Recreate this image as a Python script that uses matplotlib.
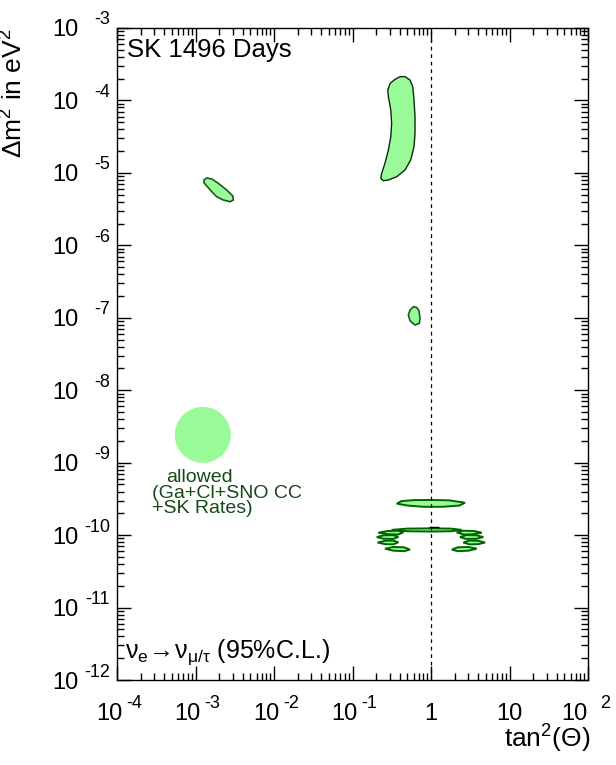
import numpy as np
import matplotlib
matplotlib.use('Agg')
import matplotlib.pyplot as plt
import matplotlib.transforms as mtrans
from matplotlib.ticker import LogLocator, NullFormatter

plt.rcParams['font.family'] = ['Liberation Sans', 'DejaVu Sans']
plt.rcParams['mathtext.fontset'] = 'custom'
plt.rcParams['mathtext.rm'] = 'Liberation Sans'
plt.rcParams['mathtext.it'] = 'Liberation Sans:italic'
plt.rcParams['mathtext.bf'] = 'Liberation Sans:bold'

# --- allowed regions (tan^2 theta, delta m^2) ---
lma_tan2 = [0.403, 0.347, 0.301, 0.281, 0.286, 0.307, 0.315, 0.307, 0.286, 0.259, 0.235,
            0.229, 0.247, 0.286, 0.366, 0.467, 0.551, 0.607, 0.625, 0.625, 0.607, 0.585,
            0.540, 0.467]
lma_dm2 = [2.13e-4, 1.95e-4, 1.72e-4, 1.39e-4, 1.13e-4, 7.38e-5, 4.83e-5, 3.16e-5, 2.07e-5,
           1.36e-5, 9.86e-6, 8.41e-6, 7.80e-6, 7.98e-6, 8.85e-6, 1.10e-5, 1.51e-5, 2.30e-5,
           3.52e-5, 5.97e-5, 1.01e-4, 1.55e-4, 1.91e-4, 2.13e-4]

sma_tan2 = [1.28e-3, 1.39e-3, 1.61e-3, 1.95e-3, 2.49e-3, 2.98e-3, 3.03e-3, 2.75e-3, 2.26e-3,
            1.86e-3, 1.61e-3, 1.39e-3, 1.28e-3]
sma_dm2 = [7.98e-6, 8.5e-6, 8.24e-6, 7.18e-6, 5.81e-6, 4.80e-6, 4.22e-6, 4.0e-6, 4.22e-6,
           4.69e-6, 5.50e-6, 6.59e-6, 7.32e-6]

low_tan2 = [0.596, 0.540, 0.514, 0.540, 0.625, 0.710, 0.724, 0.703, 0.655]
low_dm2 = [1.42e-7, 1.28e-7, 1.09e-7, 9.1e-8, 7.94e-8, 8.38e-8, 9.8e-8, 1.25e-7, 1.39e-7]

# vacuum oscillation islands, one list per island
vac_tan2 = [
    [0.366, 0.42, 0.6, 1.0, 1.7, 2.71, 2.3, 1.4, 0.8, 0.5],
    [0.315, 0.5, 1.0, 1.8, 2.46, 1.8, 1.0, 0.5],
    [0.213, 0.28, 0.38, 0.444, 0.38, 0.28],
    [0.203, 0.25, 0.33, 0.383, 0.33, 0.25],
    [0.208, 0.26, 0.33, 0.383, 0.33, 0.26],
    [0.259, 0.33, 0.45, 0.540, 0.45, 0.33],
    [2.12, 2.6, 3.5, 4.43, 3.5, 2.6],
    [2.34, 2.8, 3.8, 4.63, 3.8, 2.8],
    [2.58, 3.1, 4.0, 4.88, 4.0, 3.1],
    [1.84, 2.2, 3.0, 3.82, 3.0, 2.2],
]
vac_dm2 = [
    [2.72e-10, 2.95e-10, 3.04e-10, 3.06e-10, 3.02e-10, 2.8e-10, 2.56e-10, 2.46e-10, 2.46e-10, 2.56e-10],
    [1.18e-10, 1.23e-10, 1.24e-10, 1.23e-10, 1.18e-10, 1.13e-10, 1.12e-10, 1.13e-10],
    [1.08e-10, 1.14e-10, 1.15e-10, 1.09e-10, 1.02e-10, 1.03e-10],
    [9.4e-11, 9.95e-11, 1.0e-10, 9.45e-11, 8.85e-11, 8.9e-11],
    [7.9e-11, 8.35e-11, 8.4e-11, 7.95e-11, 7.45e-11, 7.5e-11],
    [6.5e-11, 6.85e-11, 6.8e-11, 6.3e-11, 6.0e-11, 6.1e-11],
    [1.09e-10, 1.15e-10, 1.14e-10, 1.08e-10, 1.03e-10, 1.02e-10],
    [9.4e-11, 1.0e-10, 9.95e-11, 9.4e-11, 8.9e-11, 8.85e-11],
    [7.9e-11, 8.4e-11, 8.35e-11, 7.9e-11, 7.5e-11, 7.45e-11],
    [6.3e-11, 6.8e-11, 6.85e-11, 6.5e-11, 6.1e-11, 6.0e-11],
]

bestfit_tan2 = 1.09
bestfit_dm2 = 1.28e-10

# tick label exponents
x_exps = [-4, -3, -2, -1, 0, 1, 2]
y_exps = [-12, -11, -10, -9, -8, -7, -6, -5, -4, -3]

FILL = '#98fb98'
HYPHEN = '\u2010'
BASE_FS = 17
EXP_FS = 13

fig = plt.figure(figsize=(6.16, 7.65), dpi=100)
ax = fig.add_axes([0.190, 0.1111, 0.7646, 0.8523])
ax.set_xscale('log')
ax.set_yscale('log')
ax.set_xlim(10.0 ** x_exps[0], 10.0 ** x_exps[-1])
ax.set_ylim(10.0 ** y_exps[0], 10.0 ** y_exps[-1])

ax.fill(lma_tan2, lma_dm2, facecolor=FILL, edgecolor='#0b2a0b', linewidth=1.0)
ax.fill(sma_tan2, sma_dm2, facecolor=FILL, edgecolor='#1e5a1e', linewidth=1.2)
ax.fill(low_tan2, low_dm2, facecolor=FILL, edgecolor='#1e5a1e', linewidth=1.2)
for xs, ys in zip(vac_tan2, vac_dm2):
    ax.fill(xs, ys, facecolor=FILL, edgecolor='#006400', linewidth=1.4)
ax.plot([bestfit_tan2], [bestfit_dm2], marker='_', color='k', markersize=7, mew=1)

# tan^2 = 1 line
ax.axvline(1.0, color='k', linewidth=0.9, linestyle=(0, (3, 3)))

# ticks (labels drawn by hand below, "10" + raised exponent)
ax.xaxis.set_major_locator(LogLocator(base=10, numticks=20))
ax.yaxis.set_major_locator(LogLocator(base=10, numticks=20))
ax.xaxis.set_minor_locator(LogLocator(base=10, subs=np.arange(2, 10), numticks=100))
ax.yaxis.set_minor_locator(LogLocator(base=10, subs=np.arange(2, 10), numticks=100))
ax.xaxis.set_minor_formatter(NullFormatter())
ax.yaxis.set_minor_formatter(NullFormatter())
ax.tick_params(which='both', direction='in', top=True, right=True, width=1.0,
               labelbottom=False, labelleft=False)
ax.tick_params(which='major', length=10)
ax.tick_params(which='minor', length=5)
for sp in ax.spines.values():
    sp.set_linewidth(1.0)


def px(dx, dy):
    return mtrans.ScaledTranslation(dx / 100.0, dy / 100.0, fig.dpi_scale_trans)


def exp_str(e):
    return (HYPHEN + str(-e)) if e < 0 else str(e)


xtr = ax.get_xaxis_transform()
for e in x_exps:
    v = 10.0 ** e
    if e == 0:
        ax.text(v, 0, '1', transform=xtr + px(0, -40), fontsize=BASE_FS,
                ha='center', va='baseline')
    elif e == 1:
        ax.text(v, 0, '10', transform=xtr + px(0, -40), fontsize=BASE_FS,
                ha='center', va='baseline')
    elif e > 0:
        ax.text(v, 0, '10', transform=xtr + px(-1, -40), fontsize=BASE_FS,
                ha='right', va='baseline')
        ax.text(v, 0, exp_str(e), transform=xtr + px(12, -28), fontsize=EXP_FS,
                ha='left', va='baseline')
    else:
        ax.text(v, 0, '10', transform=xtr + px(5, -40), fontsize=BASE_FS,
                ha='right', va='baseline')
        ax.text(v, 0, exp_str(e), transform=xtr + px(9, -28), fontsize=EXP_FS,
                ha='left', va='baseline')

ytr = ax.get_yaxis_transform()
for e in y_exps:
    v = 10.0 ** e
    ax.text(0, v, '10', transform=ytr + px(-39, -8.5), fontsize=BASE_FS,
            ha='right', va='baseline')
    ax.text(0, v, exp_str(e), transform=ytr + px(-7, 3.5), fontsize=EXP_FS,
            ha='right', va='baseline')

ax.set_ylabel(r'$\mathregular{\Delta m^2}$ in $\mathregular{eV^2}$', fontsize=19)
ax.yaxis.set_label_coords(-0.19, 0.90)
ax.set_xlabel(r'$\mathregular{tan^2(\Theta)}$', fontsize=19)
ax.xaxis.set_label_coords(0.913, -0.066)

ax.text(0.021, 0.985, 'SK 1496 Days', transform=ax.transAxes, fontsize=18.5,
        ha='left', va='top')
ax.text(0.017, 0.034, r'$\mathregular{\nu_e\!\rightarrow\!\nu_{\mu/\tau}}$ (95%C.L.)',
        transform=ax.transAxes, fontsize=18, ha='left', va='baseline')

# legend swatch
ax.scatter([0.182], [0.376], s=1625, color=FILL, transform=ax.transAxes,
           edgecolors='none', zorder=3)
ax.text(0.174, 0.3113, 'allowed', transform=ax.transAxes, fontsize=14,
        color='#144a14', ha='center', va='center')
ax.text(0.074, 0.2868, '(Ga+Cl+SNO CC', transform=ax.transAxes, fontsize=14,
        color='#144a14', ha='left', va='center')
ax.text(0.074, 0.2623, '+SK Rates)', transform=ax.transAxes, fontsize=14,
        color='#144a14', ha='left', va='center')

fig.savefig('out.png', dpi=100)
